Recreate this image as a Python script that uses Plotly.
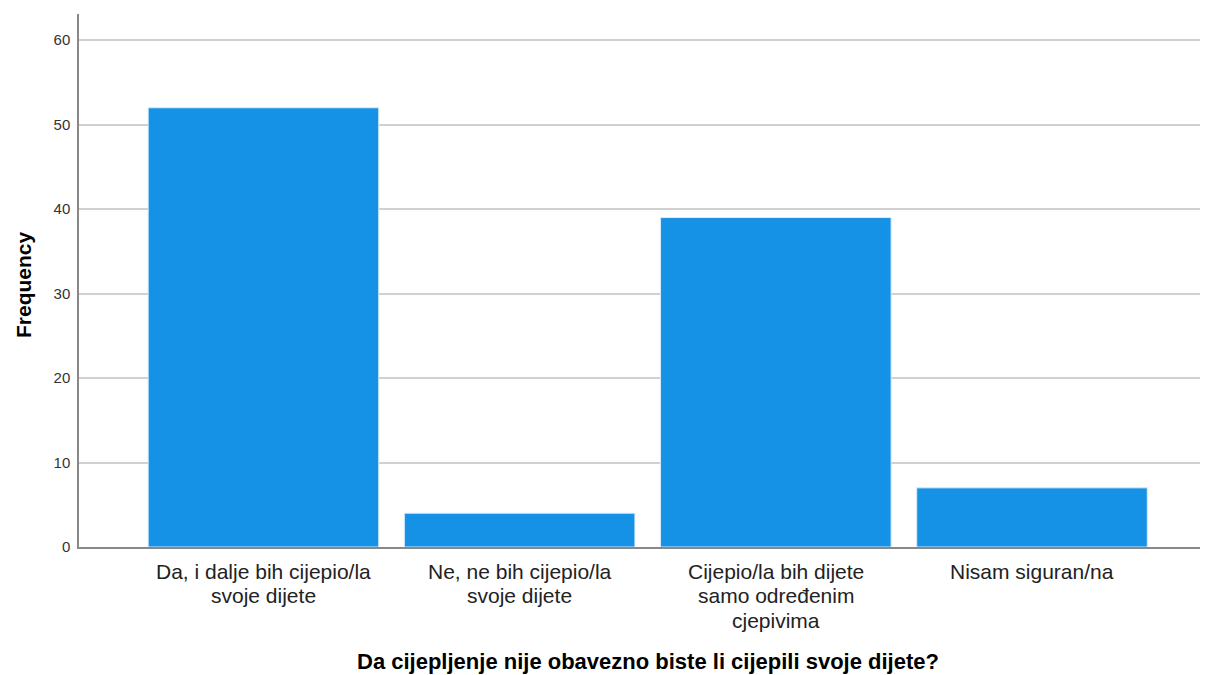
import plotly.graph_objects as go

categories = [
    "Da, i dalje bih cijepio/la<br>svoje dijete",
    "Ne, ne bih cijepio/la<br>svoje dijete",
    "Cijepio/la bih dijete<br>samo određenim<br>cjepivima",
    "Nisam siguran/na",
]
frequency = [52, 4, 39, 7]
y_ticks = [0, 10, 20, 30, 40, 50, 60]
x_title = "Da cijepljenje nije obavezno biste li cijepili svoje dijete?"
y_title = "Frequency"

FONT = "Liberation Sans, Arial, sans-serif"
xpos = list(range(len(categories)))

fig = go.Figure(
    go.Bar(
        x=xpos,
        y=frequency,
        width=0.9,
        marker=dict(color="#1591e6", line=dict(color="#d6ebfa", width=1)),
        hoverinfo="skip",
    )
)

# page body has an 8px margin; compensate so the plot sits where the reference does
fig.update_layout(
    width=1200,
    height=667,
    margin=dict(l=71, r=0, t=6, b=128),
    plot_bgcolor="white",
    paper_bgcolor="white",
    showlegend=False,
    font=dict(family=FONT, color="#222"),
)

fig.update_xaxes(
    range=[-0.72, 3.687],
    tickvals=xpos,
    showticklabels=False,
    showgrid=False,
    showline=True,
    linecolor="#888888",
    linewidth=1.5,
    ticks="",
    zeroline=False,
)

fig.update_yaxes(
    range=[0, 63.1],
    tickvals=y_ticks,
    tickfont=dict(size=15, color="#333"),
    ticklabelstandoff=4,
    showgrid=True,
    gridcolor="#d0d0d0",
    gridwidth=1.5,
    showline=True,
    linecolor="#888888",
    linewidth=1.5,
    ticks="",
    zeroline=False,
)

# category labels, one annotation per line
for xi, label in zip(xpos, categories):
    for k, line in enumerate(label.split("<br>")):
        fig.add_annotation(
            text=line, xref="x", yref="paper", x=xi, y=0,
            yanchor="middle", yshift=-24 - 24.5 * k, showarrow=False,
            borderpad=0,
            font=dict(size=21, color="#222", family=FONT),
        )

fig.add_annotation(
    text=f"<b>{x_title}</b>", xref="paper", yref="paper", x=0.5, y=0,
    yanchor="middle", yshift=-114, xshift=4, showarrow=False, borderpad=0,
    font=dict(size=22, color="#000", family=FONT),
)
fig.add_annotation(
    text=f"<b>{y_title}</b>", xref="paper", yref="paper", x=0, y=0.5,
    xanchor="center", xshift=-56, yshift=-4.5, textangle=-90, showarrow=False,
    font=dict(size=21, color="#000", family=FONT),
)

fig.write_html("out.html")
